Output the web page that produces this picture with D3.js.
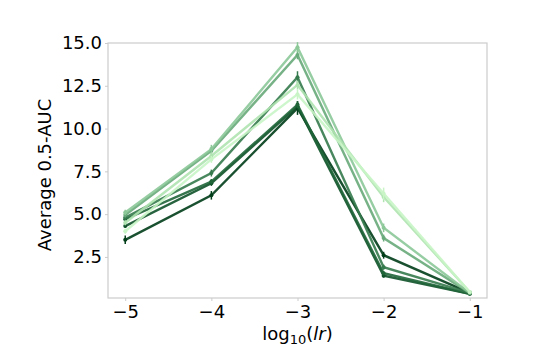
<!DOCTYPE html>
<html>
<head>
<meta charset="utf-8">
<script src="https://cdn.jsdelivr.net/npm/d3@7"></script>
<style>
  body { margin: 0; background: #fff; }
  text { font-family: "DejaVu Sans", sans-serif; }
</style>
</head>
<body>
<svg width="540" height="360"></svg>
<script>
var svg = d3.select('svg');

var lrs = [-5, -4, -3, -2, -1];
var xTicks = [-5, -4, -3, -2, -1];
var yTicks = [2.5, 5.0, 7.5, 10.0, 12.5, 15.0];

// one row per run, values at each log10(lr)
var runA = [3.5, 6.1, 11.2, 2.6, 0.40];
var runB = [4.3, 6.8, 11.3, 1.4, 0.35];
var runC = [4.7, 6.9, 11.4, 1.55, 0.35];
var runD = [4.8, 7.4, 13.0, 1.9, 0.40];
var runE = [4.95, 8.7, 14.3, 3.6, 0.40];
var runF = [5.1, 8.8, 14.75, 4.2, 0.40];
var runG = [4.5, 8.4, 12.55, 6.0, 0.45];
var runH = [4.0, 8.2, 12.0, 6.2, 0.45];

// error bar half widths
var errA = [0.25, 0.25, 0.4, 0.2, 0.05];
var errB = [0.1, 0.15, 0.2, 0.1, 0.05];
var errC = [0.1, 0.15, 0.2, 0.1, 0.05];
var errD = [0.15, 0.2, 0.35, 0.15, 0.05];
var errE = [0.15, 0.2, 0.25, 0.2, 0.05];
var errF = [0.15, 0.25, 0.3, 0.25, 0.05];
var errG = [0.15, 0.2, 0.25, 0.3, 0.05];
var errH = [0.15, 0.2, 0.3, 0.35, 0.05];

var runs = [runA, runB, runC, runD, runE, runF, runG, runH];
var errs = [errA, errB, errC, errD, errE, errF, errG, errH];
var colors = ['#003d18', '#11522a', '#1f6538', '#357a4d', '#68aa7a', '#8cc898', '#afe3b0', '#c9f5c6'];

var mLeft = 108, mRight = 487, mTop = 43, mBottom = 298;

var x = d3.scaleLinear().domain([-5.2, -0.8]).range([mLeft, mRight]);
var y = d3.scaleLinear().domain([0.1, 15.0]).range([mBottom, mTop]);

// frame
svg.append('rect')
    .attr('x', mLeft).attr('y', mTop)
    .attr('width', mRight - mLeft).attr('height', mBottom - mTop)
    .attr('fill', 'none')
    .attr('stroke', '#cccccc')
    .attr('stroke-width', 1.2);

var xAxis = svg.append('g')
    .attr('transform', 'translate(0,' + mBottom + ')')
    .call(d3.axisBottom(x).tickValues(xTicks).tickSize(3).tickPadding(4)
        .tickFormat(function(d) { return '\u2212' + Math.abs(d); }));
xAxis.select('.domain').remove();
xAxis.selectAll('line').attr('stroke', '#cccccc');
xAxis.selectAll('text').attr('font-size', 18).attr('fill', '#000')
    .style('font-family', '"DejaVu Sans", sans-serif');

var yAxis = svg.append('g')
    .attr('transform', 'translate(' + mLeft + ',0)')
    .call(d3.axisLeft(y).tickValues(yTicks).tickSize(3).tickPadding(3)
        .tickFormat(d3.format('.1f')));
yAxis.select('.domain').remove();
yAxis.selectAll('line').attr('stroke', '#cccccc');
yAxis.selectAll('text').attr('font-size', 18).attr('fill', '#000')
    .style('font-family', '"DejaVu Sans", sans-serif');

var line = d3.line()
    .x(function(d, i) { return x(lrs[i]); })
    .y(function(d) { return y(d); });

var g = svg.append('g');
runs.forEach(function(r, k) {
    var c = colors[k];
    g.append('path')
        .datum(r)
        .attr('d', line)
        .attr('fill', 'none')
        .attr('stroke', c)
        .attr('stroke-width', 2.4)
        .attr('stroke-opacity', 0.9);
    g.selectAll(null)
        .data(r)
        .enter().append('line')
        .attr('x1', function(d, i) { return x(lrs[i]); })
        .attr('x2', function(d, i) { return x(lrs[i]); })
        .attr('y1', function(d, i) { return y(d - errs[k][i]); })
        .attr('y2', function(d, i) { return y(d + errs[k][i]); })
        .attr('stroke', c)
        .attr('stroke-width', 1.5);
    g.selectAll(null)
        .data(r)
        .enter().append('circle')
        .attr('cx', function(d, i) { return x(lrs[i]); })
        .attr('cy', function(d) { return y(d); })
        .attr('r', 2)
        .attr('fill', c);
});

svg.append('text')
    .attr('transform', 'translate(51,175) rotate(-90)')
    .attr('text-anchor', 'middle')
    .attr('font-size', 18)
    .text('Average 0.5-AUC');

var xl = svg.append('text')
    .attr('x', (mLeft + mRight) / 2)
    .attr('y', 340)
    .attr('text-anchor', 'middle')
    .attr('font-size', 18);
xl.append('tspan').text('log');
xl.append('tspan').attr('font-size', 13).attr('dy', 4).text('10');
xl.append('tspan').attr('dy', -4).text('(');
xl.append('tspan').attr('font-style', 'italic').text('lr');
xl.append('tspan').text(')');
</script>
</body>
</html>
